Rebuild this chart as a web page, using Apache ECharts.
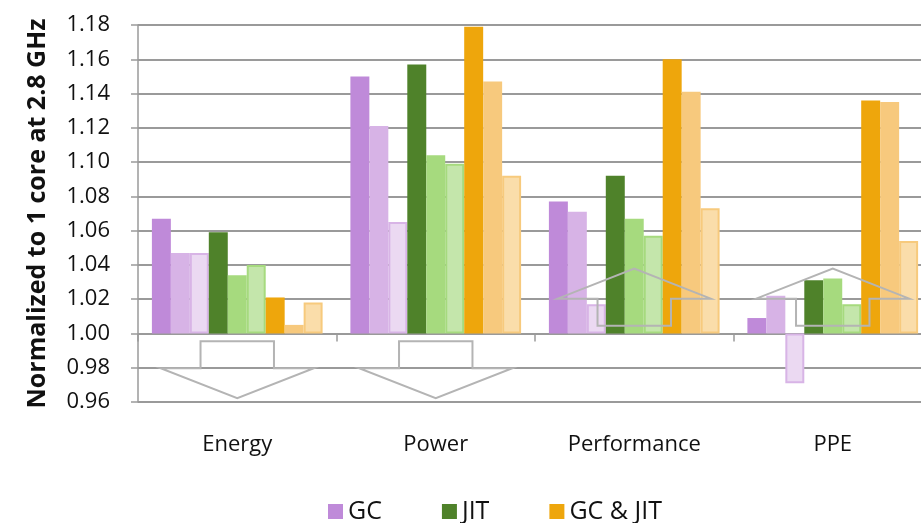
<!DOCTYPE html>
<html>
<head>
<meta charset="utf-8">
<script src="https://cdn.jsdelivr.net/npm/echarts@6/dist/echarts.min.js"></script>
<style>html,body{margin:0;padding:0;background:#fff;}#c{width:921px;height:523px;}</style>
</head>
<body>
<div id="c"></div>
<script>
// ---- data ----
var categories = ['Energy', 'Power', 'Performance', 'PPE'];
var yTickLabels = ['0.96','0.98','1.00','1.02','1.04','1.06','1.08','1.10','1.12','1.14','1.16','1.18'];
var legendNames = ['GC', 'JIT', 'GC & JIT'];
var baseline = 1.00;
var gc1   = [1.067, 1.150, 1.077, 1.009];
var gc2   = [1.047, 1.121, 1.071, 1.022];
var gc3   = [1.047, 1.065, 1.017, 0.971];
var jit1  = [1.059, 1.157, 1.092, 1.031];
var jit2  = [1.034, 1.104, 1.067, 1.032];
var jit3  = [1.040, 1.099, 1.057, 1.017];
var both1 = [1.021, 1.179, 1.160, 1.136];
var both2 = [1.005, 1.147, 1.141, 1.135];
var both3 = [1.018, 1.092, 1.073, 1.054];
// arrow direction per category: -1 = lower is better, +1 = higher is better
var arrowDir = [-1, -1, 1, 1];

var FONT = 'Open Sans';
var chart = echarts.init(document.getElementById('c'), null, {renderer: 'canvas'});

function off(arr) { return arr.map(function (v) { return +(v - baseline).toFixed(4); }); }

var seriesDefs = [
  {name: 'GC',        data: gc1,   color: '#BF8AD9', border: null},
  {name: 'GC 2',      data: gc2,   color: '#D7B3E6', border: null},
  {name: 'GC 3',      data: gc3,   color: '#EBD9F2', border: '#D8B4E6'},
  {name: 'JIT',       data: jit1,  color: '#4F822A', border: null},
  {name: 'JIT 2',     data: jit2,  color: '#A6DA7E', border: null},
  {name: 'JIT 3',     data: jit3,  color: '#C4E6AB', border: '#A6DA7E'},
  {name: 'GC & JIT',  data: both1, color: '#EEA60C', border: null},
  {name: 'GC & JIT 2',data: both2, color: '#F7C97D', border: null},
  {name: 'GC & JIT 3',data: both3, color: '#FADDAA', border: '#F7CA7D'}
];

var series = seriesDefs.map(function (s) {
  return {
    name: s.name,
    type: 'bar',
    data: off(s.data),
    barGap: '0%',
    barCategoryGap: '14%',
    itemStyle: {
      color: s.color,
      borderColor: s.border || s.color,
      borderWidth: s.border ? 2 : 0
    },
    emphasis: {disabled: true},
    animation: false
  };
});

var option = {
  animation: false,
  backgroundColor: '#ffffff',
  grid: {left: 138, top: 25, width: 794, height: 377, containLabel: false, outerBoundsMode: 'none'},
  legend: {
    data: legendNames,
    left: 323,
    top: 494,
    icon: 'rect',
    itemWidth: 15,
    itemHeight: 15,
    itemGap: 60,
    itemStyle: {borderWidth: 0},
    textStyle: {fontFamily: FONT, fontSize: 25, color: '#111'},
    selectedMode: false
  },
  xAxis: {
    type: 'category',
    data: categories,
    axisLine: {onZero: true, lineStyle: {color: '#9a9a9a', width: 1.5}},
    axisTick: {show: true, length: 8, lineStyle: {color: '#9a9a9a', width: 1.5}},
    axisLabel: {fontFamily: FONT, fontSize: 22, color: '#111', margin: 32}
  },
  yAxis: {
    type: 'value',
    min: -0.04,
    max: 0.18,
    interval: 0.02,
    name: 'Normalized to 1 core at 2.8 GHz',
    nameLocation: 'middle',
    nameGap: 88,
    nameTextStyle: {fontFamily: FONT, fontSize: 25, fontWeight: 'bold', color: '#111'},
    axisLine: {show: true, lineStyle: {color: '#9a9a9a', width: 1.5}},
    axisTick: {show: true, length: 7, lineStyle: {color: '#9a9a9a', width: 1.5}},
    axisLabel: {
      fontFamily: FONT, fontSize: 22, color: '#111', margin: 28,
      formatter: function (v) {
        var i = Math.round((v + 0.04) / 0.02);
        return yTickLabels[i];
      }
    },
    splitLine: {show: true, lineStyle: {color: '#9a9a9a', width: 2}}
  },
  series: series
};
chart.setOption(option);

// block arrows ("better" direction) positioned from axis scales
function drawArrows() {
  var p0 = chart.convertToPixel({gridIndex: 0}, [0, 0]);
  var p1 = chart.convertToPixel({gridIndex: 0}, [1, 0]);
  var catW = p1[0] - p0[0];
  var H = catW * 0.386, S = catW * 0.185;
  var els = [];
  function yPix(v) { return chart.convertToPixel({gridIndex: 0}, [0, v])[1]; }
  categories.forEach(function (c, i) {
    var cx = chart.convertToPixel({gridIndex: 0}, [i, 0])[0];
    var d = arrowDir[i];
    var yShaft = yPix(d * 0.0045);
    var yHead = yPix(d * 0.0203);
    var yTip = yPix(d * 0.0378);
    var pts = [
      [cx - S, yShaft], [cx + S, yShaft], [cx + S, yHead], [cx + H, yHead],
      [cx, yTip], [cx - H, yHead], [cx - S, yHead]
    ];
    els.push({
      type: 'polygon',
      z: 100,
      silent: true,
      shape: {points: pts},
      style: {fill: 'none', stroke: '#b4b4b4', lineWidth: 2}
    });
  });
  chart.setOption({graphic: els});
}
drawArrows();
</script>
</body>
</html>
